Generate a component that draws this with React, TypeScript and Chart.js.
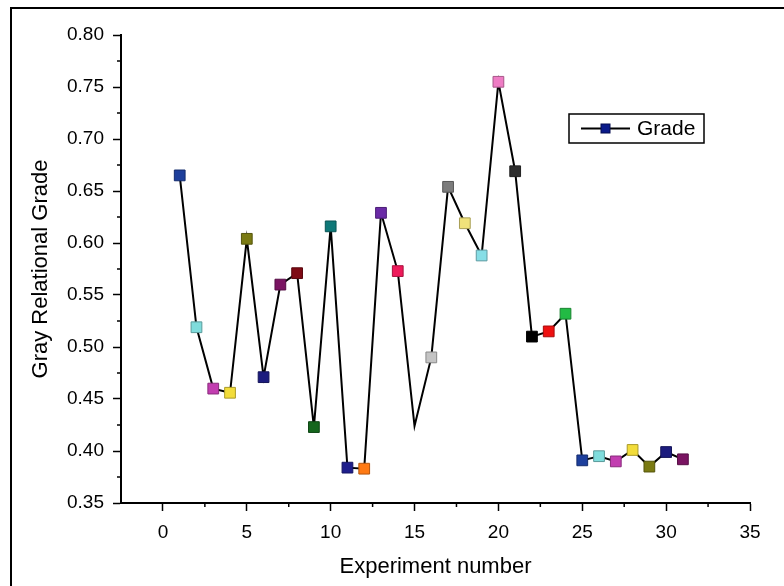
import React, { useEffect, useRef } from "react";
import { Chart, registerables } from "chart.js";

Chart.register(...registerables);

// ---- data ----
const experiments = [
  1, 2, 3, 4, 5, 6, 7, 8, 9, 10, 11, 12, 13, 14, 15, 16, 17, 18, 19, 20, 21, 22, 23, 24, 25, 26, 27, 28, 29, 30, 31,
];
const grades = [
  0.665, 0.519, 0.46, 0.456, 0.604, 0.471, 0.56, 0.571, 0.423, 0.616, 0.384, 0.383, 0.629, 0.573, 0.424, 0.49,
  0.654, 0.619, 0.588, 0.755, 0.669, 0.51, 0.515, 0.532, 0.391, 0.395, 0.39, 0.401, 0.385, 0.399, 0.392,
];
const xTickValues = [0, 5, 10, 15, 20, 25, 30, 35];
const yTickValues = [0.35, 0.4, 0.45, 0.5, 0.55, 0.6, 0.65, 0.7, 0.75, 0.8];
const seriesLabel = "Grade";
const xTitle = "Experiment number";
const yTitle = "Gray Relational Grade";

// ---- styles ----
const colorCycle = [
  "#000000", "#ee1111", "#22bb44", "#1d3f9c", "#7fdcdc", "#c23db0", "#f2dc3a", "#7a7a12",
  "#1c1c7e", "#7a1462", "#7e0a14", "#16661e", "#0e7878", "#1e1e8c", "#ff7a14", "#6a2aa6",
  "#ee1a5a", "transparent", "#c4c4c4", "#7c7c7c", "#f0e27a", "#86dee6", "#ee7cc4", "#2e2e2e",
];
const cycleStart = 3;

function darken(hex: string, f = 0.7): string {
  if (hex === "transparent") return hex;
  const n = parseInt(hex.slice(1), 16);
  const r = Math.round(((n >> 16) & 255) * f);
  const g = Math.round(((n >> 8) & 255) * f);
  const b = Math.round((n & 255) * f);
  return `rgb(${r},${g},${b})`;
}

const FONT = "'Liberation Sans', Arial, sans-serif";

export default function App() {
  const ref = useRef<HTMLCanvasElement | null>(null);

  useEffect(() => {
    if (!ref.current) return;
    const pointColors = experiments.map((_, i) => colorCycle[(i + cycleStart) % colorCycle.length]);
    const borderColors = pointColors.map((c) => darken(c));

    const decor = {
      id: "decor",
      beforeDraw(chart: any) {
        const ctx = chart.ctx;
        ctx.save();
        ctx.fillStyle = "#ffffff";
        ctx.fillRect(0, 0, chart.width, chart.height);
        ctx.strokeStyle = "#000";
        ctx.lineWidth = 2;
        ctx.beginPath();
        ctx.moveTo(11, chart.height);
        ctx.lineTo(11, 8);
        ctx.lineTo(chart.width, 8);
        ctx.stroke();
        ctx.restore();
      },
      afterDraw(chart: any) {
        const ctx = chart.ctx;
        const xs = chart.scales.x;
        const ys = chart.scales.y;
        ctx.save();
        ctx.strokeStyle = "#000";
        ctx.lineWidth = 1.5;
        // minor ticks
        for (let i = 0; i < xTickValues.length; i++) {
          const v = xTickValues[i] - 2.5;
          if (v <= xs.min) continue;
          const px = xs.getPixelForValue(v);
          ctx.beginPath();
          ctx.moveTo(px, xs.top);
          ctx.lineTo(px, xs.top + 4);
          ctx.stroke();
        }
        for (let i = 1; i < yTickValues.length; i++) {
          const v = (yTickValues[i] + yTickValues[i - 1]) / 2;
          const py = ys.getPixelForValue(v);
          ctx.beginPath();
          ctx.moveTo(ys.right, py);
          ctx.lineTo(ys.right - 4, py);
          ctx.stroke();
        }
        // legend
        const bx = 569, by = 114, bw = 135, bh = 29;
        const cy = by + bh / 2;
        ctx.lineWidth = 1.5;
        ctx.strokeRect(bx, by, bw, bh);
        ctx.lineWidth = 2;
        ctx.beginPath();
        ctx.moveTo(581, cy);
        ctx.lineTo(630, cy);
        ctx.stroke();
        ctx.fillStyle = "#0a1a8a";
        ctx.fillRect(601, cy - 4.5, 9, 9);
        ctx.lineWidth = 1;
        ctx.strokeStyle = "#050d50";
        ctx.strokeRect(601, cy - 4.5, 9, 9);
        ctx.fillStyle = "#000";
        ctx.font = `21px ${FONT}`;
        ctx.textBaseline = "middle";
        ctx.textAlign = "left";
        ctx.fillText(seriesLabel, 637, cy + 1);
        ctx.restore();
      },
    };

    const chart = new Chart(ref.current, {
      type: "scatter",
      data: {
        datasets: [
          {
            label: seriesLabel,
            data: experiments.map((x, i) => ({ x, y: grades[i] })),
            showLine: true,
            borderColor: "#000",
            borderWidth: 2,
            pointStyle: "rect",
            pointRadius: 7.6,
            pointBorderWidth: 1,
            pointBackgroundColor: pointColors,
            pointBorderColor: borderColors,
          } as any,
        ],
      },
      options: {
        animation: false,
        responsive: false,
        devicePixelRatio: 1,
        events: [],
        layout: { padding: { top: 35, right: 34, left: 0, bottom: 0 } },
        plugins: { legend: { display: false }, tooltip: { enabled: false }, title: { display: false } },
        scales: {
          x: {
            type: "linear",
            min: -2.5,
            max: 35,
            afterBuildTicks: (s: any) => {
              s.ticks = xTickValues.map((v) => ({ value: v }));
            },
            afterFit: (s: any) => {
              s.height = 83;
            },
            border: { display: true, color: "#000", width: 2 },
            grid: { display: true, drawOnChartArea: false, drawTicks: true, tickLength: 8, tickColor: "#000", tickWidth: 1.5 },
            ticks: { color: "#000", font: { family: FONT, size: 19 }, padding: 10, maxRotation: 0, autoSkip: false },
            title: {
              display: true,
              text: xTitle,
              color: "#000",
              font: { family: FONT, size: 22 },
              padding: { top: 0, bottom: 6 },
            },
          },
          y: {
            type: "linear",
            min: 0.35,
            max: 0.8,
            afterBuildTicks: (s: any) => {
              s.ticks = yTickValues.map((v) => ({ value: v }));
            },
            afterFit: (s: any) => {
              s.width = 121;
            },
            border: { display: true, color: "#000", width: 2 },
            grid: { display: true, drawOnChartArea: false, drawTicks: true, tickLength: 8, tickColor: "#000", tickWidth: 1.5 },
            ticks: {
              color: "#000",
              font: { family: FONT, size: 19 },
              padding: 9,
              autoSkip: false,
              callback: (v: any) => Number(v).toFixed(2),
            },
            title: {
              display: true,
              text: yTitle,
              color: "#000",
              font: { family: FONT, size: 22 },
              padding: { top: 28, bottom: 0 },
            },
          },
        },
      },
      plugins: [decor],
    });
    return () => chart.destroy();
  }, []);

  return (
    <div style={{ position: "absolute", left: 0, top: 0, width: 784, height: 586 }}>
      <canvas ref={ref} width={784} height={586} style={{ display: "block" }} />
    </div>
  );
}
